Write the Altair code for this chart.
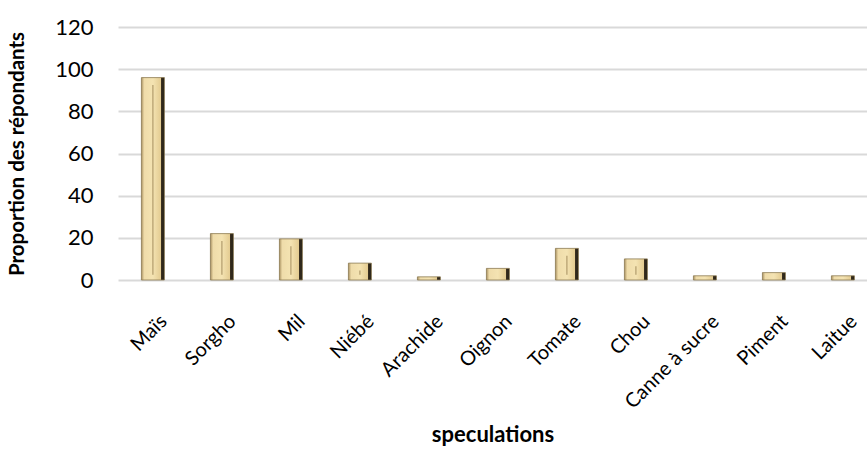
import altair as alt
import pandas as pd

categories = ["Maïs", "Sorgho", "Mil", "Niébé", "Arachide", "Oignon", "Tomate", "Chou", "Canne à sucre", "Piment", "Laitue"]
values = [96, 22, 19.5, 8, 1.5, 5.5, 15, 10, 2, 3.5, 2]

df = pd.DataFrame({"cat": categories, "val": values})

gold = alt.Gradient(
    gradient="linear", x1=0, x2=1, y1=0, y2=0,
    stops=[
        alt.GradientStop(color="#a89060", offset=0),
        alt.GradientStop(color="#efdcaa", offset=0.12),
        alt.GradientStop(color="#f4e3b2", offset=0.5),
        alt.GradientStop(color="#e4cc92", offset=0.84),
        alt.GradientStop(color="#3a3020", offset=0.87),
        alt.GradientStop(color="#1e1a12", offset=1),
    ],
)

xscale = alt.Scale(paddingInner=0.667, paddingOuter=0.261, align=0.65)

base = alt.Chart(df)

bars = base.mark_bar(fill=gold, stroke="#8c7a52", strokeWidth=0.8).encode(
    x=alt.X("cat:N", sort=categories, title="speculations", scale=xscale,
            axis=alt.Axis(labelAngle=-45, labelAlign="right", labelBaseline="middle",
                          labelFont="Lato", labelFontSize=20, labelColor="#000",
                          labelPadding=38, labelOffset=11, ticks=False, domain=False,
                          titleFont="Lato", titleFontSize=22, titleFontWeight="bold",
                          titleColor="#000", titlePadding=12)),
    y=alt.Y("val:Q", title="Proportion des répondants",
            scale=alt.Scale(domain=[0, 120]),
            axis=alt.Axis(values=[0, 20, 40, 60, 80, 100, 120], ticks=False, domain=False,
                          gridColor="#d9d9d9", gridWidth=1.8,
                          labelFont="Lato", labelFontSize=22, labelColor="#000", labelPadding=25,
                          titleFont="Lato", titleFontSize=20.5, titleFontWeight="bold",
                          titleColor="#000", titlePadding=27)),
)

groove = base.transform_filter("datum.val > 6").transform_calculate(
    top="datum.val - 3.5", bot="2.5"
).mark_rule(color="#a08a5a", strokeWidth=1.2, opacity=0.8).encode(
    x=alt.X("cat:N", sort=categories, scale=xscale),
    y=alt.Y("top:Q"),
    y2="bot:Q",
)

chart = alt.layer(bars, groove).properties(
    width=749, height=253,
    autosize=alt.AutoSizeParams(type="none"),
    padding={"left": 118, "top": 27, "right": 0, "bottom": 176},
).configure_view(stroke=None)

chart.save("out.html", embed_options={"renderer": "svg", "actions": False})
